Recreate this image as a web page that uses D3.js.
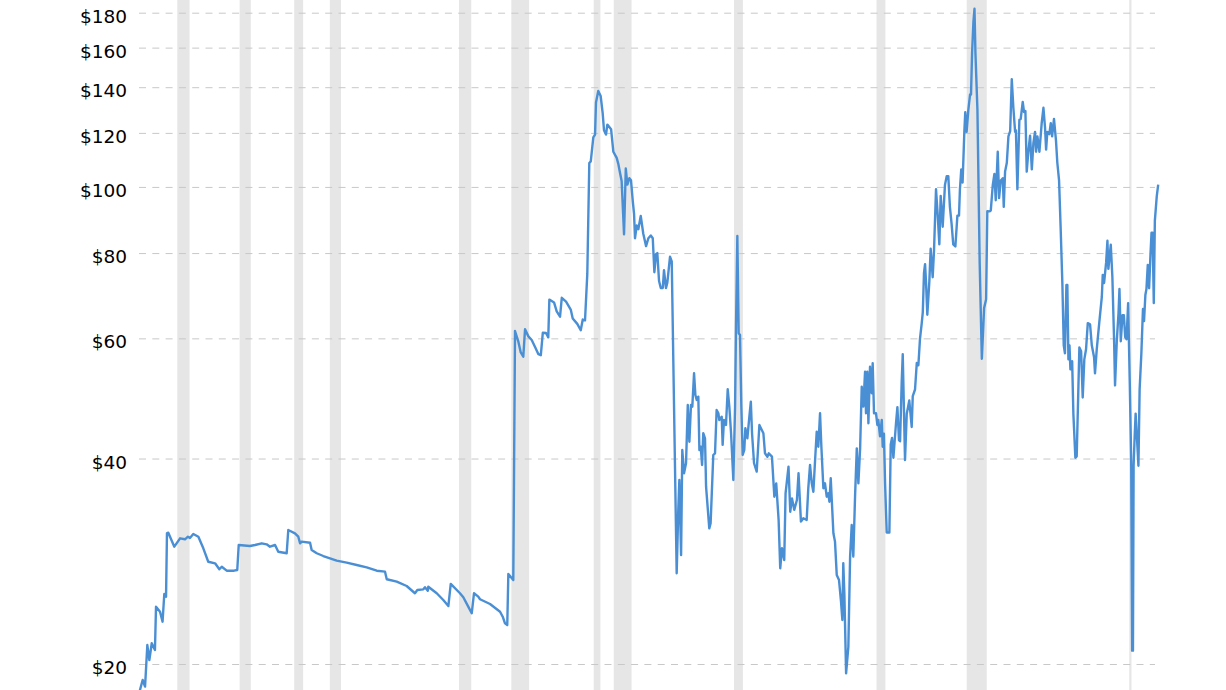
<!DOCTYPE html>
<html>
<head>
<meta charset="utf-8">
<script src="https://cdn.jsdelivr.net/npm/d3@7"></script>
<style>
  html, body { margin: 0; padding: 0; background: #fff; }
  svg { display: block; }
</style>
</head>
<body>
<div id="chart"></div>
<script>
// ---- Data (inflation-adjusted crude oil price, $/barrel, log scale) ----
const years = [
1946.00,1946.24,1946.42,1946.59,1946.74,1946.92,1947.16,1947.24,1947.54,1947.73,1947.86,1947.99,
1948.06,1948.16,1948.61,1949.04,1949.41,1949.63,1949.78,1950.03,1950.41,1950.78,1951.15,1951.66,
1951.98,1952.16,1952.53,1953.08,1953.32,1953.43,1954.27,1954.65,1955.15,1955.52,1955.77,1956.15,
1956.39,1957.02,1957.14,1957.64,1957.89,1958.02,1958.14,1958.77,1958.89,1959.27,1959.76,1960.26,
1960.76,1961.51,1962.26,1963.01,1963.76,1964.38,1964.51,1965.26,1966.00,1966.62,1966.80,1967.25,
1967.37,1967.58,1967.62,1968.25,1968.74,1969.12,1969.30,1969.99,1970.24,1970.61,1970.87,1971.04,
1971.36,1971.49,1972.24,1972.99,1973.19,1973.36,1973.53,1973.61,1973.98,
1974.11,1974.36,1974.54,1974.73,1974.86,1975.11,1975.36,1975.61,1975.86,1976.04,1976.19,1976.43,
1976.60,1976.68,1977.03,1977.23,1977.48,1977.61,1977.93,1978.28,1978.43,1978.77,1979.03,1979.18,
1979.35,1979.52,1979.67,1979.78,1979.97,1980.10,1980.17,1980.34,1980.52,1980.67,1980.77,1980.92,
1981.02,1981.30,1981.47,1981.72,1981.84,1981.97,1982.09,1982.27,1982.40,1982.52,1982.67,1982.79,
1982.92,1983.02,1983.09,1983.22,1983.34,1983.52,1983.71,1983.92,1984.09,1984.27,1984.42,1984.54,
1984.66,1984.76,1984.89,1985.02,1985.17,1985.26,1985.41,1985.51,1985.71,1985.84,
1986.21,1986.33,1986.41,1986.54,1986.63,1986.76,1986.91,1987.04,1987.16,1987.28,1987.38,1987.51,
1987.61,1987.71,1987.83,1987.91,1988.01,1988.11,1988.20,1988.33,1988.41,1988.65,1988.75,1988.95,
1989.08,1989.20,1989.33,1989.40,1989.58,1989.65,1989.75,1989.90,1990.03,1990.15,1990.28,1990.45,
1990.58,1990.65,1990.75,1990.85,1990.95,1991.05,1991.15,1991.27,1991.35,1991.50,1991.65,1991.76,
1991.85,1992.00,1992.20,1992.40,1992.58,1992.70,1992.82,1993.00,1993.10,1993.34,1993.52,1993.66,
1993.84,1993.96,1994.09,1994.26,1994.36,1994.58,1994.71,1994.84,1995.01,1995.21,1995.33,1995.51,
1995.69,1995.94,1996.06,1996.19,1996.32,1996.44,1996.57,1996.69,1996.81,1996.94,1997.04,1997.19,
1997.31,1997.44,1997.56,1997.64,1997.74,1997.94,1998.06,1998.19,1998.36,1998.51,1998.61,1998.68,
1998.76,1998.89,1999.06,1999.19,1999.31,1999.43,1999.56,1999.69,1999.81,1999.94,2000.06,2000.18,
2000.31,2000.38,2000.48,2000.56,2000.68,2000.81,2000.88,2000.98,2001.13,2001.23,2001.30,2001.43,
2001.56,2001.63,2001.72,2001.81,2001.93,2002.13,2002.23,2002.33,2002.43,2002.63,2002.73,2002.85,
2002.93,2003.05,2003.13,2003.30,2003.43,2003.62,2003.80,2003.88,2004.05,2004.18,2004.30,2004.42,
2004.55,2004.63,2004.72,2004.80,2004.87,2004.97,2005.12,2005.22,2005.37,2005.47,2005.62,2005.75,
2005.87,2005.97,2006.12,2006.29,2006.42,2006.54,2006.66,2006.79,2006.91,2007.07,2007.22,2007.34,
2007.41,2007.51,2007.61,2007.74,2007.81,2007.91,2008.04,2008.17,2008.24,2008.32,2008.42,2008.50,
2008.57,2008.72,2008.89,2009.05,2009.22,2009.37,2009.46,2009.66,2009.72,2009.87,2009.99,2010.09,
2010.24,2010.34,2010.47,2010.62,2010.69,2010.79,2010.92,2011.04,2011.17,2011.29,2011.41,2011.54,
2011.60,2011.71,2011.86,2011.96,2012.11,2012.21,2012.31,2012.41,2012.53,2012.66,2012.79,2012.91,
2013.03,2013.11,2013.21,2013.36,2013.53,2013.66,2013.78,2013.86,2013.95,2014.10,2014.21,2014.31,
2014.45,2014.60,2014.70,2014.83,2014.95,2015.08,2015.18,2015.27,2015.38,2015.45,2015.53,2015.61,
2015.68,2015.81,2015.90,2016.05,2016.15,2016.35,2016.48,2016.60,2016.72,2016.85,2016.98,2017.15,
2017.28,2017.45,2017.52,2017.65,2017.85,2018.03,2018.10,2018.20,2018.35,2018.45,2018.52,2018.70,
2018.82,2018.95,2019.02,2019.15,2019.28,2019.35,2019.45,2019.58,2019.68,2019.78,2019.88,2020.00,
2020.12,2020.23,2020.30,2020.36,2020.41,2020.49,2020.56,2020.66,2020.77,2020.86,2020.99,2021.11,
2021.19,2021.29,2021.37,2021.47,2021.57,2021.67,2021.75,2021.83,2021.92,2022.00,2022.14,2022.25
];
const prices = [
18.2,18.95,18.53,21.32,20.27,21.45,20.97,24.27,23.86,23.07,25.33,25.10,
31.11,31.15,29.71,30.56,30.46,30.73,30.60,31.01,30.73,29.55,28.24,28.09,
27.53,27.77,27.40,27.40,27.46,29.88,29.78,29.88,30.05,29.95,29.71,29.88,
29.21,29.06,31.43,31.08,30.73,30.05,30.22,30.11,29.38,29.06,28.79,28.57,
28.34,28.15,27.93,27.71,27.40,27.31,26.62,26.40,26.02,25.39,25.67,25.73,
25.91,25.61,25.96,25.39,24.82,24.32,26.20,25.39,25.05,24.27,23.73,25.39,
25.10,24.88,24.49,23.86,23.46,22.94,22.81,27.10,26.55,
61.5,59.33,57.22,56.4,61.88,60.4,59.67,58.28,56.88,56.67,61.13,61.1,
60.2,68.38,67.73,65.70,64.54,68.8,67.9,66.12,64.17,63.0,61.66,63.93,
63.77,74.57,108.4,109.0,118.2,119.3,132.98,138.2,135.9,128.3,121.1,119.3,
123.4,121.5,112.6,110.3,108.1,104.8,102.0,85.2,106.4,100.8,103.0,102.3,
95.5,91.3,84.1,87.8,86.7,90.7,85.4,81.9,84.1,84.9,84.1,75.0,
79.7,80.0,72.8,71.1,71.1,75.5,71.1,72.4,79.0,77.8,
27.16,33.64,37.21,28.89,41.17,38.06,39.37,47.92,42.34,47.92,47.65,53.33,
49.57,48.74,49.29,41.17,41.63,39.14,43.56,42.83,36.38,31.61,32.15,40.48,
40.71,47.12,46.6,45.56,46.07,41.88,45.56,44.8,50.53,47.65,43.56,37.21,
47.65,62.4,84.76,61.03,60.68,47.65,40.48,41.17,44.3,42.83,46.07,48.46,
43.56,39.37,38.27,44.8,44.05,43.56,40.71,40.25,40.71,40.25,35.17,36.79,
32.51,27.62,29.55,28.41,35.57,38.91,33.43,34.97,33.64,34.78,38.06,32.33,
32.7,32.51,36.18,39.14,36.79,35.76,39.81,43.79,41.63,46.6,41.63,36.18,
36.79,35.17,35.57,34.58,37.42,31.08,30.22,27.01,26.55,24.68,23.2,28.09,
25.39,19.38,21.2,28.73,31.97,28.73,35.17,41.4,36.79,41.4,50.97,47.65,
53.62,46.6,53.62,45.05,54.53,49.85,55.16,46.6,46.6,44.8,45.56,43.1,
45.56,41.63,43.5,36.68,31.16,31.16,41.95,42.89,40.11,45.17,47.58,42.57,
42.4,51.63,56.86,39.81,46.54,48.65,44.5,49.39,50.49,55.2,54.8,59.9,
63.09,65.47,74.82,77.08,72.65,64.98,72.65,81.18,73.73,80.59,99.22,90.76,
82.4,97.03,87.45,100.7,103.7,103.7,93.5,88.1,82.4,81.8,90.76,90.76,
99.22,106.1,101.5,120.4,128.7,120.4,129.7,136.6,136.6,157.2,174.5,182.4,
157.2,129.7,77.08,56.02,66.44,68.44,92.11,92.1,92.4,100.7,104.5,95.6,
112.6,96.3,102.2,103.0,93.5,105.3,108.5,118.6,120.7,143.8,130.6,120.4,
121.0,99.2,125.4,125.8,133.2,128.7,129.2,105.3,112.6,118.9,106.1,116.0,
120.4,112.6,118.6,112.6,124.0,130.6,122.2,113.4,120.4,119.5,124.0,118.6,
125.8,116.9,108.5,102.2,86.9,71.83,58.6,57.05,71.83,71.83,55.9,58.6,
54.04,55.54,46.55,40.11,40.3,58.2,57.43,49.15,55.9,57.82,63.15,62.9,
58.6,56.3,53.31,57.82,63.6,68.99,74.32,72.32,77.39,83.4,75.85,82.27,
73.8,59.43,51.19,59.43,65.34,70.87,59.43,64.9,64.9,60.24,59.83,67.58,
51.89,39.57,20.92,20.92,39.04,43.2,46.55,42.92,39.04,50.51,57.05,66.23,
63.6,69.45,70.87,76.88,71.06,79.5,85.67,85.67,67.58,89.23,96.8,100.8
];

// US recessions (decimal years)
const recessionStarts = [1948.833,1953.5,1957.583,1960.25,1969.917,1973.833,1980.0,1981.5,1990.5,2001.167,2007.917,2020.083];
const recessionEnds   = [1949.75,1954.333,1958.25,1961.083,1970.833,1975.167,1980.5,1982.833,1991.167,2001.833,2009.417,2020.25];

const yTicks = [20, 40, 60, 80, 100, 120, 140, 160, 180];
const yTickLabels = ["$20", "$40", "$60", "$80", "$100", "$120", "$140", "$160", "$180"];

// ---- Chart ----
const W = 1226, H = 690;
const svg = d3.select("#chart").append("svg").attr("width", W).attr("height", H);

const x = d3.scaleLinear().domain([1946, 2022.25]).range([139.45, 1158.2]);
const y = d3.scaleLog().domain([20, 180]).range([664, 12.7]);

const plotLeft = 139, gridRight = 1155;

// recession bands
svg.append("g").selectAll("rect")
  .data(recessionStarts.map((s, i) => [s, recessionEnds[i]]))
  .join("rect")
  .attr("x", d => x(d[0]))
  .attr("width", d => Math.max(1.5, x(d[1]) - x(d[0])))
  .attr("y", 0)
  .attr("height", H)
  .attr("fill", "#e6e6e6");

// y axis with grid
const yAxis = d3.axisLeft(y)
  .tickValues(yTicks)
  .tickFormat((d, i) => yTickLabels[yTicks.indexOf(d)])
  .tickSize(-(gridRight - plotLeft))
  .tickPadding(12);

const gAxis = svg.append("g")
  .attr("transform", `translate(${plotLeft},0)`)
  .call(yAxis);
gAxis.select(".domain").remove();
gAxis.selectAll(".tick line")
  .attr("stroke", "#c8c8c8")
  .attr("stroke-width", 1)
  .attr("stroke-dasharray", "7,6.3");
gAxis.selectAll(".tick text")
  .attr("font-family", "'DejaVu Sans', Verdana, sans-serif")
  .attr("font-size", "18.5px")
  .attr("fill", "#000")
  .attr("dy", "0.52em");

// price line
const data = years.map((yr, i) => ({ yr, v: prices[i] }));
const line = d3.line()
  .x(d => x(d.yr))
  .y(d => y(d.v));

svg.append("path")
  .datum(data)
  .attr("fill", "none")
  .attr("stroke", "#4a8fd4")
  .attr("stroke-width", 2.4)
  .attr("stroke-linejoin", "round")
  .attr("d", line);
</script>
</body>
</html>
